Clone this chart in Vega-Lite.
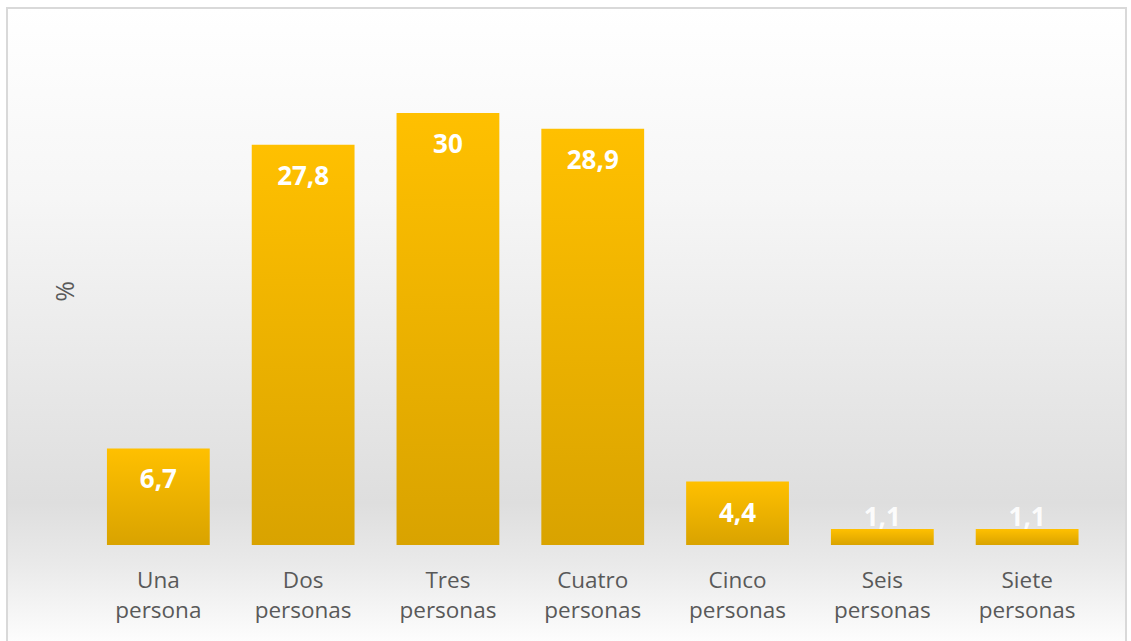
{
  "$schema": "https://vega.github.io/schema/vega-lite/v6.json",
  "width": 1119,
  "height": 634,
  "autosize": "none",
  "padding": {"left": 7, "top": 8, "right": 5, "bottom": 0},
  "background": "#ffffff",
  "config": {
    "view": {
      "stroke": "#d9d9d9",
      "strokeWidth": 2,
      "fill": {
        "gradient": "linear",
        "x1": 0, "y1": 0, "x2": 0, "y2": 1,
        "stops": [
          {"offset": 0, "color": "#ffffff"},
          {"offset": 0.3, "color": "#f6f6f6"},
          {"offset": 0.78, "color": "#dedede"},
          {"offset": 0.88, "color": "#eaeaea"},
          {"offset": 1, "color": "#fdfdfd"}
        ]
      }
    },
    "font": "Open Sans"
  },
  "data": {
    "values": [
      {"hogar": "Una persona", "value": 6.7, "label": "6,7"},
      {"hogar": "Dos personas", "value": 27.8, "label": "27,8"},
      {"hogar": "Tres personas", "value": 30, "label": "30"},
      {"hogar": "Cuatro personas", "value": 28.9, "label": "28,9"},
      {"hogar": "Cinco personas", "value": 4.4, "label": "4,4"},
      {"hogar": "Seis personas", "value": 1.1, "label": "1,1"},
      {"hogar": "Siete personas", "value": 1.1, "label": "1,1"}
    ]
  },
  "encoding": {
    "x": {
      "field": "hogar",
      "type": "nominal",
      "sort": null,
      "scale": {"paddingInner": 0.29, "paddingOuter": 0.509, "align": 0.678},
      "axis": {
        "title": null,
        "orient": "bottom",
        "offset": -97,
        "domain": false,
        "ticks": false,
        "labelAngle": 0,
        "labelExpr": "split(datum.label, ' ')",
        "labelFont": "Open Sans",
        "labelFontSize": 22.5,
        "labelColor": "#595959",
        "labelLineHeight": 30,
        "labelPadding": 24,
        "labelBaseline": "top"
      }
    },
    "y": {
      "field": "value",
      "type": "quantitative",
      "scale": {"domain": [-6.74, 37.29], "nice": false, "zero": false},
      "axis": {
        "title": "%",
        "domain": false,
        "ticks": false,
        "labels": false,
        "grid": false,
        "titleAngle": -90,
        "titleX": 58,
        "titleY": 283,
        "titleAlign": "center",
        "titleBaseline": "middle",
        "titleFont": "Open Sans",
        "titleFontSize": 25,
        "titleFontWeight": "normal",
        "titleColor": "#595959"
      }
    }
  },
  "layer": [
    {
      "mark": {
        "type": "bar",
        "color": {
          "gradient": "linear",
          "x1": 0, "y1": 0, "x2": 0, "y2": 1,
          "stops": [
            {"offset": 0, "color": "#ffc000"},
            {"offset": 1, "color": "#d9a300"}
          ]
        }
      },
      "encoding": {
        "y2": {"datum": 0}
      }
    },
    {
      "transform": [{"filter": "datum.value >= 3"}],
      "mark": {
        "type": "text",
        "baseline": "middle",
        "dy": 32,
        "color": "#ffffff",
        "font": "Open Sans",
        "fontSize": 26,
        "fontWeight": "bold"
      },
      "encoding": {"text": {"field": "label"}}
    },
    {
      "transform": [{"filter": "datum.value < 3"}],
      "mark": {
        "type": "text",
        "baseline": "alphabetic",
        "dy": -3,
        "color": "#ffffff",
        "opacity": 0.9,
        "font": "Open Sans",
        "fontSize": 26,
        "fontWeight": "bold"
      },
      "encoding": {"text": {"field": "label"}}
    }
  ]
}
